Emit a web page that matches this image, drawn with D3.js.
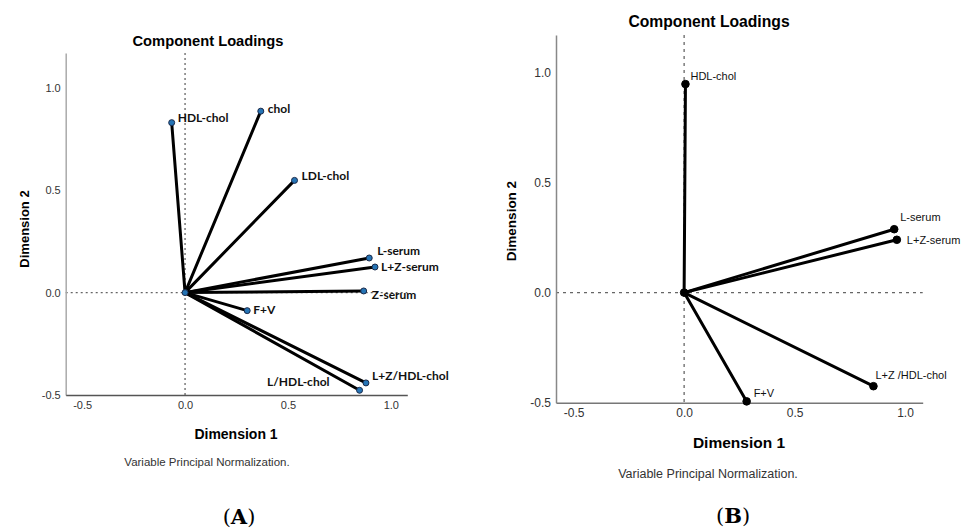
<!DOCTYPE html>
<html>
<head>
<meta charset="utf-8">
<script src="https://cdn.jsdelivr.net/npm/d3@7"></script>
<style>
  body { margin: 0; background: #fff; }
  svg { display: block; }
</style>
</head>
<body>
<script>
// Panel A loadings
var varsA = ["HDL-chol", "chol", "LDL-chol", "L-serum", "L+Z-serum", "Z-serum", "F+V", "L+Z/HDL-chol", "L/HDL-chol"];
var dim1A = [-0.065, 0.368, 0.532, 0.895, 0.923, 0.868, 0.302, 0.879, 0.848];
var dim2A = [0.830, 0.886, 0.548, 0.169, 0.125, 0.008, -0.088, -0.441, -0.477];

// Panel B loadings
var varsB = ["HDL-chol", "L-serum", "L+Z-serum", "L+Z /HDL-chol", "F+V"];
var dim1B = [0.006, 0.951, 0.963, 0.857, 0.283];
var dim2B = [0.947, 0.288, 0.240, -0.425, -0.494];

var xTicks = [-0.5, 0.0, 0.5, 1.0];
var yTicks = [-0.5, 0.0, 0.5, 1.0];
var xDomain = [-0.58, 1.08];
var yDomain = [-0.5, 1.17];

var svg = d3.select("body").append("svg")
  .attr("width", 962)
  .attr("height", 530);

// label nudges (pixels) so text sits like the original
var offsA = [[6,-5],[7,-2],[7,-5],[8,-7],[6,0],[8,4],[6,-1],[6,-7],[-30,-8]];
var offsB = [[5,-8],[6,-12],[10,0],[2,-11],[7,-8]];

function drawPanel(p) {
  var x = d3.scaleLinear().domain(xDomain).range([p.left, p.right]);
  var y = d3.scaleLinear().domain(yDomain).range([p.bottom, p.top]);
  var g = svg.append("g");

  // dotted reference lines
  g.append("line")
    .attr("x1", x(0)).attr("x2", x(0))
    .attr("y1", p.top).attr("y2", p.bottom)
    .attr("stroke", "#666").attr("stroke-width", 1.3)
    .attr("stroke-dasharray", p.dash);
  g.append("line")
    .attr("x1", p.left).attr("x2", p.right)
    .attr("y1", y(0)).attr("y2", y(0))
    .attr("stroke", "#666").attr("stroke-width", 1.3)
    .attr("stroke-dasharray", p.dash);

  // axes
  var yAxis = d3.axisLeft(y).tickValues(yTicks)
    .tickFormat(function(d) { return d.toFixed(1); })
    .tickSize(0).tickPadding(5);
  var xAxis = d3.axisBottom(x).tickValues(xTicks)
    .tickFormat(function(d) { return d.toFixed(1); })
    .tickSize(0).tickPadding(6);

  var ya = g.append("g")
    .attr("transform", "translate(" + p.left + ",0)")
    .call(yAxis);
  ya.select(".domain").attr("stroke", p.yAxisColor).attr("stroke-width", 1.5);
  ya.selectAll("text").attr("fill", "#333")
    .style("font-family", "Liberation Sans, Arial, sans-serif")
    .style("font-size", p.tickSize + "px");

  var xa = g.append("g")
    .attr("transform", "translate(0," + p.bottom + ")")
    .call(xAxis);
  xa.select(".domain").attr("stroke", p.xAxisColor).attr("stroke-width", 1.5);
  xa.selectAll("text").attr("fill", "#333")
    .style("font-family", "Liberation Sans, Arial, sans-serif")
    .style("font-size", p.tickSize + "px");

  var data = p.vars.map(function(v, i) {
    return {name: v, d1: p.dim1[i], d2: p.dim2[i], off: p.offs[i]};
  });

  // vectors from origin
  g.selectAll(".vec").data(data).enter()
    .append("line")
    .attr("x1", x(0)).attr("y1", y(0))
    .attr("x2", function(d) { return x(d.d1); })
    .attr("y2", function(d) { return y(d.d2); })
    .attr("stroke", "#000")
    .attr("stroke-width", 3)
    .attr("stroke-linecap", "round");

  // origin dot
  g.append("circle")
    .attr("cx", x(0)).attr("cy", y(0)).attr("r", p.r)
    .attr("fill", p.dotFill).attr("stroke", p.dotStroke).attr("stroke-width", 1);

  g.selectAll(".pt").data(data).enter()
    .append("circle")
    .attr("cx", function(d) { return x(d.d1); })
    .attr("cy", function(d) { return y(d.d2); })
    .attr("r", p.r)
    .attr("fill", p.dotFill)
    .attr("stroke", p.dotStroke)
    .attr("stroke-width", 1);

  g.selectAll(".lbl").data(data).enter()
    .append("text")
    .attr("x", function(d) { return x(d.d1) + d.off[0]; })
    .attr("y", function(d) { return y(d.d2) + d.off[1]; })
    .attr("dy", "0.35em")
    .attr("text-anchor", function(d) { return d.off[0] < 0 ? "end" : "start"; })
    .attr("fill", "#111")
    .style("font-family", p.labelFont)
    .style("font-weight", p.labelWeight)
    .style("font-size", p.labelSize + "px")
    .text(function(d) { return d.name; });

  // titles
  g.append("text")
    .attr("x", p.titleX).attr("y", p.titleY).attr("dy", "0.35em")
    .attr("text-anchor", "middle")
    .style("font-family", "Liberation Sans, Arial, sans-serif")
    .style("font-weight", "bold").style("font-size", p.titleSize + "px")
    .text("Component Loadings");

  g.append("text")
    .attr("transform", "translate(" + p.yLabX + "," + p.yLabY + ") rotate(-90)")
    .attr("dy", "0.35em")
    .attr("text-anchor", "middle")
    .style("font-family", "Liberation Sans, Arial, sans-serif")
    .style("font-weight", "bold").style("font-size", p.yLabSize + "px")
    .text("Dimension 2");

  g.append("text")
    .attr("x", p.xLabX).attr("y", p.xLabY).attr("dy", "0.35em")
    .attr("text-anchor", "middle")
    .style("font-family", "Liberation Sans, Arial, sans-serif")
    .style("font-weight", "bold").style("font-size", p.xLabSize + "px")
    .text("Dimension 1");

  g.append("text")
    .attr("x", p.noteX).attr("y", p.noteY).attr("dy", "0.35em")
    .attr("text-anchor", "middle")
    .attr("fill", "#333")
    .style("font-family", "Liberation Sans, Arial, sans-serif")
    .style("font-size", p.noteSize + "px")
    .text("Variable Principal Normalization.");

  // panel letter
  var cap = g.append("text")
    .attr("x", p.capX).attr("y", p.capY).attr("dy", "0.35em")
    .attr("text-anchor", "middle")
    .style("font-family", "DejaVu Serif, Liberation Serif, serif")
    .style("font-size", "21px");
  cap.append("tspan").text("(");
  cap.append("tspan").style("font-weight", "bold").text(p.letter);
  cap.append("tspan").text(")");
}

drawPanel({
  vars: varsA, dim1: dim1A, dim2: dim2A, offs: offsA,
  left: 65.7, right: 407.3, top: 53, bottom: 395,
  dash: "2,3", yAxisColor: "#aaa", xAxisColor: "#555",
  tickSize: 11, r: 3, dotFill: "#2574b5", dotStroke: "#1b2a4a",
  labelFont: "Lato, Open Sans, sans-serif", labelWeight: "bold", labelSize: 12,
  titleX: 208, titleY: 41, titleSize: 14.7,
  yLabX: 24, yLabY: 229, yLabSize: 13, xLabX: 236, xLabY: 434, xLabSize: 14,
  noteX: 207, noteY: 462, noteSize: 11.5,
  capX: 239, capY: 517, letter: "A"
});

drawPanel({
  vars: varsB, dim1: dim1B, dim2: dim2B, offs: offsB,
  left: 556, right: 922.7, top: 35, bottom: 402.7,
  dash: "3,4", yAxisColor: "#888", xAxisColor: "#777",
  tickSize: 12, r: 3.8, dotFill: "#000", dotStroke: "#000",
  labelFont: "Liberation Sans, Arial, sans-serif", labelWeight: "normal", labelSize: 11,
  titleX: 709, titleY: 22, titleSize: 15.7,
  yLabX: 511, yLabY: 221, yLabSize: 13.5, xLabX: 739, xLabY: 443, xLabSize: 15.5,
  noteX: 708, noteY: 474, noteSize: 12.5,
  capX: 733, capY: 516, letter: "B"
});
</script>
</body>
</html>
